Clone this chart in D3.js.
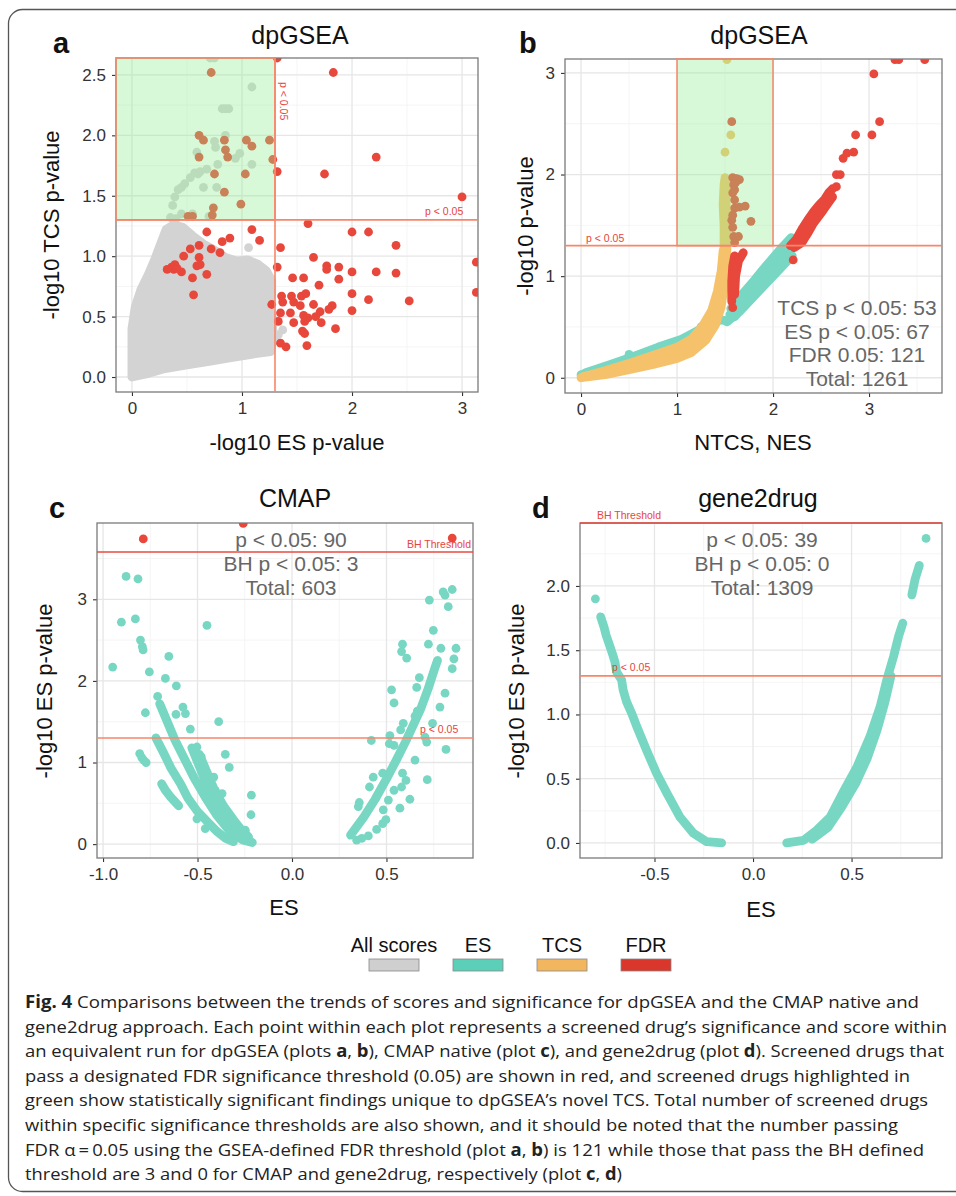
<!DOCTYPE html>
<html>
<head>
<meta charset="utf-8">
<script src="https://cdn.jsdelivr.net/npm/d3@7"></script>
<style>
    body { margin: 0; background: #fff; }
    svg { display: block; }
</style>
</head>
<body>
<svg id="chart" width="956" height="1196"></svg>
<script>
// ---- data: panel a (-log10 ES p, -log10 TCS p) ----
// outline of the dense grey cloud (centres of the edge points)
var aGrayCloud = [[0.00,0.00],[0.00,0.20],[0.00,0.40],[0.03,0.58],[0.08,0.72],[0.15,0.85],[0.21,0.98],[0.26,1.10],[0.31,1.22],
    [0.38,1.26],[0.46,1.24],[0.55,1.17],[0.65,1.10],[0.75,1.05],[0.85,0.99],[0.95,0.96],[1.05,0.97],[1.15,0.93],[1.22,0.88],
    [1.27,0.80],[1.27,0.68],[1.24,0.58],[1.28,0.48],[1.28,0.34],[1.26,0.21],[1.10,0.19],[0.90,0.16],[0.70,0.13],[0.50,0.10],
    [0.30,0.07],[0.15,0.03]];
var aGray = [[0.71,2.64],[0.75,2.64],[1.09,2.40],[0.82,2.22],[0.85,2.22],[0.88,2.22],[0.85,2.00],[0.75,1.95],[0.76,1.90],
    [0.59,1.86],[0.98,1.85],[0.94,1.81],[1.09,1.76],[0.78,1.76],[0.62,1.70],[0.57,1.69],[0.53,1.65],[0.48,1.60],[0.45,1.57],
    [0.42,1.55],[0.39,1.49],[0.37,1.42],[0.65,1.57],[0.77,1.57],[0.60,1.68],[0.68,1.72],[0.45,1.35],[0.40,1.31],[0.55,1.35],
    [0.70,1.33],[0.35,1.32],[1.37,0.39],[1.33,0.35],[1.30,0.30],[1.06,1.07]];
var aFdr = [[1.83,2.52],[1.32,2.64],[2.22,1.82],[1.75,1.68],[1.32,1.70],[3.00,1.49],[1.60,1.27],[2.00,1.20],[2.15,1.20],
    [2.40,1.09],[1.35,1.07],[3.13,0.95],[1.65,0.99],[1.77,0.92],[1.77,0.89],[1.88,0.91],[1.32,0.91],[2.00,0.87],[2.22,0.87],
    [2.40,0.86],[1.46,0.82],[1.56,0.82],[1.88,0.81],[1.70,0.76],[2.00,0.69],[3.13,0.70],[2.15,0.64],[2.52,0.63],[1.27,0.60],
    [1.36,0.67],[1.37,0.62],[1.45,0.67],[1.47,0.62],[1.54,0.67],[1.58,0.69],[1.65,0.60],[1.71,0.54],[1.82,0.59],[1.79,0.56],
    [1.35,0.53],[1.44,0.53],[1.53,0.59],[1.56,0.51],[1.60,0.49],[1.47,0.45],[1.57,0.46],[1.67,0.50],[1.72,0.45],[2.00,0.55],
    [1.33,0.46],[1.55,0.38],[1.57,0.36],[1.85,0.40],[1.35,0.28],[1.40,0.25],[1.59,0.26],
    [0.68,1.20],[1.09,1.22],[1.16,1.13],[0.82,1.12],[0.89,1.15],[0.61,1.09],[0.53,1.06],[0.72,1.06],[0.80,1.03],[0.47,1.00],
    [0.61,0.99],[0.62,0.93],[0.59,0.92],[0.36,0.91],[0.39,0.93],[0.38,0.89],[0.32,0.89],[0.45,0.87],[0.41,0.90],[0.55,0.82],
    [0.68,0.85],[0.56,0.68],
    [0.72,2.52],[0.61,2.00],[0.65,1.96],[0.61,1.82],[0.84,1.96],[0.85,1.88],[0.87,1.82],[1.04,1.96],[1.09,1.91],[1.25,1.96],
    [1.28,1.80],[0.75,1.68],[1.03,1.68],[0.84,1.53],[0.99,1.43],[0.74,1.40],[0.73,1.34],[0.51,1.33],[0.55,1.33]];

// ---- data: panel b (NTCS / NES, -log10 p) ----
var bEsTracks = [
    [[0.00,0.03],[0.25,0.10],[0.50,0.19],[0.75,0.27],[1.00,0.35],[1.20,0.44],[1.35,0.52],[1.45,0.57],[1.53,0.56]],
    [[0.05,0.05],[0.30,0.13],[0.55,0.21],[0.80,0.30],[1.05,0.38],[1.25,0.48],[1.40,0.56]],
    [[1.52,0.55],[1.65,0.65],[1.78,0.78],[1.90,0.90],[2.00,1.00],[2.10,1.10],[2.20,1.20]],
    [[1.56,0.68],[1.66,0.80],[1.78,0.93],[1.90,1.07],[2.00,1.18],[2.10,1.29],[2.19,1.38]],
    [[1.55,0.62],[1.70,0.78],[1.85,0.92],[2.00,1.09],[2.15,1.27]],
    [[1.60,0.60],[1.72,0.74],[1.86,0.88],[2.02,1.05],[2.18,1.22]]];
var bEs = [[0.50,0.23],[1.25,0.50],[2.24,1.30]];
var bTcsTracks = [
    [[0.00,0.00],[0.25,0.03],[0.50,0.08],[0.75,0.13],[1.00,0.19],[1.15,0.25],[1.30,0.37],[1.40,0.52],[1.46,0.70],[1.49,0.90],[1.51,1.10],[1.52,1.28]],
    [[0.02,0.01],[0.25,0.07],[0.50,0.14],[0.75,0.22],[1.00,0.30],[1.15,0.38],[1.26,0.50],[1.36,0.66],[1.42,0.85],[1.46,1.05],[1.48,1.25]],
    [[0.10,0.02],[0.40,0.10],[0.70,0.17],[1.00,0.25],[1.20,0.33],[1.33,0.50],[1.42,0.70],[1.47,0.95],[1.50,1.20]],
    [[1.49,1.28],[1.49,1.50],[1.48,1.70],[1.49,1.90],[1.50,1.97]],
    [[1.52,1.32],[1.52,1.55],[1.51,1.75],[1.52,1.93]]];
var bTcs = [[1.50,2.22],[1.56,2.39],[1.52,3.13]];
var bFdrTracks = [
    [[1.57,0.75],[1.57,0.95],[1.58,1.10],[1.60,1.20]],
    [[1.60,0.82],[1.61,1.00],[1.64,1.15],[1.69,1.23]],
    [[2.18,1.30],[2.24,1.36],[2.30,1.46],[2.36,1.55],[2.42,1.63],[2.48,1.70],[2.54,1.76],[2.58,1.82],[2.62,1.86]],
    [[2.22,1.28],[2.30,1.33],[2.36,1.42],[2.42,1.52],[2.50,1.62],[2.56,1.70],[2.62,1.78]]];
var bFdr = [[1.58,0.69],[2.21,1.16],[2.66,2.00],[2.70,2.00],[2.66,1.88],[2.73,2.16],[2.77,2.21],[2.84,2.22],[2.86,2.39],
    [3.03,2.39],[3.11,2.52],[3.05,2.99],[3.27,3.13],[3.31,3.13],[3.58,3.13],
    [1.57,2.52],[1.58,1.97],[1.62,1.96],[1.65,1.95],[1.59,1.90],[1.61,1.92],[1.58,1.82],[1.60,1.85],[1.60,1.67],[1.65,1.68],
    [1.71,1.69],[1.77,1.54],[1.58,1.48],[1.59,1.39],[1.64,1.39],[1.60,1.33],[1.57,1.55],[1.58,1.60],[1.60,1.75]];
var bCounts = ["TCS p < 0.05: 53", "ES p < 0.05: 67", "FDR 0.05: 121", "Total: 1261"];

// ---- data: panel c (CMAP ES, -log10 ES p) ----
var cEsTracks = [
    [[-0.70,1.72],[-0.66,1.50],[-0.62,1.28],[-0.57,1.05],[-0.52,0.82],[-0.46,0.58],[-0.40,0.36],[-0.33,0.16],[-0.26,0.05],[-0.21,0.02]],
    [[-0.72,1.30],[-0.68,1.12],[-0.64,0.93],[-0.59,0.74],[-0.55,0.56],[-0.50,0.40],[-0.45,0.28],[-0.40,0.16],[-0.35,0.07],[-0.31,0.03]],
    [[-0.53,1.18],[-0.49,0.95],[-0.45,0.72],[-0.41,0.52],[-0.36,0.33],[-0.31,0.18],[-0.26,0.08],[-0.22,0.03]],
    [[-0.49,1.10],[-0.45,0.88],[-0.41,0.66],[-0.36,0.46],[-0.31,0.30],[-0.27,0.18],[-0.23,0.09]],
    [[-0.69,0.74],[-0.67,0.66],[-0.64,0.57],[-0.60,0.47]],
    [[0.31,0.11],[0.38,0.33],[0.44,0.55],[0.50,0.80],[0.55,1.02],[0.60,1.25],[0.64,1.45],[0.68,1.65],[0.72,1.90],[0.755,2.15],[0.77,2.25]]];
var cEs = [[-0.878,3.28],[-0.815,3.25],[-0.903,2.72],[-0.829,2.76],[-0.45,2.68],[-0.802,2.50],[-0.788,2.38],[-0.792,2.42],
    [-0.949,2.17],[-0.652,2.30],[-0.755,2.11],[-0.670,2.03],[-0.612,1.94],[-0.711,1.81],[-0.776,1.61],[-0.577,1.68],
    [-0.564,1.60],[-0.614,1.59],[-0.538,1.41],[-0.388,1.50],[-0.806,1.11],[-0.795,1.06],[-0.785,1.03],[-0.772,1.00],
    [-0.353,1.10],[-0.332,0.94],[-0.215,0.60],[-0.217,0.36],[-0.503,0.31],[-0.459,0.19],
    [-0.503,1.19],[-0.48,1.07],[-0.467,0.95],[-0.414,0.82],[-0.406,0.66],[-0.37,0.62],[-0.361,0.38],[-0.326,0.27],
    [-0.291,0.19],[-0.247,0.17],[-0.24,0.06],
    [0.80,3.09],[0.848,3.12],[0.81,3.05],[0.727,2.99],[0.827,2.91],[0.748,2.62],[0.722,2.45],[0.788,2.40],[0.868,2.40],
    [0.857,2.27],[0.848,2.15],[0.585,2.45],[0.58,2.36],[0.607,2.28],[0.674,2.04],[0.66,1.92],[0.81,1.85],[0.527,1.89],
    [0.54,1.73],[0.783,1.68],[0.744,1.48],[0.589,1.48],[0.575,1.40],[0.42,1.27],[0.518,1.33],[0.515,1.23],[0.54,1.21],
    [0.704,1.31],[0.713,1.25],[0.815,1.16],[0.651,1.03],[0.716,0.79],[0.585,0.87],[0.603,0.78],[0.58,0.70],[0.43,0.82],
    [0.41,0.70],[0.48,0.87],[0.54,0.66],[0.51,0.54],[0.624,0.55],[0.356,0.51],[0.351,0.46],[0.571,0.44],[0.483,0.42],
    [0.497,0.30],[0.48,0.25],[0.448,0.18],[0.342,0.05],[0.369,0.07],[0.404,0.10],[0.651,1.57],[0.663,1.63]];
var cFdr = [[-0.787,3.74],[-0.258,3.93],[0.848,3.75]];
var cCounts = ["p < 0.05: 90", "BH p < 0.05: 3", "Total: 603"];

// ---- data: panel d (gene2drug ES, -log10 ES p) ----
var dEsTracks = [
    [[-0.773,1.76],[-0.756,1.68],[-0.746,1.62],[-0.726,1.53],[-0.713,1.47],[-0.701,1.41],[-0.692,1.33],[-0.667,1.27],
     [-0.659,1.19],[-0.642,1.10],[-0.616,1.01],[-0.591,0.91],[-0.540,0.72],[-0.489,0.54],[-0.438,0.39],[-0.370,0.20],
     [-0.302,0.075],[-0.235,0.01],[-0.159,0.00]],
    [[0.171,0.00],[0.256,0.02],[0.323,0.10],[0.391,0.20],[0.459,0.40],[0.527,0.59],[0.594,0.83],[0.645,1.06],[0.679,1.27],
     [0.713,1.45],[0.739,1.61],[0.760,1.71]],
    [[0.30,0.03],[0.38,0.12],[0.45,0.28],[0.52,0.46],[0.58,0.66],[0.63,0.88],[0.67,1.10],[0.70,1.30]],
    [[0.806,1.93],[0.822,2.05],[0.834,2.11],[0.844,2.16]]];
var dEs = [[-0.80,1.90],[0.878,2.37]];
var dCounts = ["p < 0.05: 39", "BH p < 0.05: 0", "Total: 1309"];

// ---- thresholds, legend, caption ----
var pCut = 1.3;
var cBhCut = 3.58;
var dBhCut = 2.49;
var legendKeys = ["All scores", "ES", "TCS", "FDR"];
var captionLines = [
    [["Fig. 4", 1], ["  Comparisons between the trends of scores and significance for dpGSEA and the CMAP native and", 0]],
    [["gene2drug approach. Each point within each plot represents a screened drug\u2019s significance and score within", 0]],
    [["an equivalent run for dpGSEA (plots ", 0], ["a", 1], [", ", 0], ["b", 1], ["), CMAP native (plot ", 0], ["c", 1],
     ["), and gene2drug (plot ", 0], ["d", 1], ["). Screened drugs that", 0]],
    [["pass a designated FDR significance threshold (0.05) are shown in red, and screened drugs highlighted in", 0]],
    [["green show statistically significant findings unique to dpGSEA\u2019s novel TCS. Total number of screened drugs", 0]],
    [["within specific significance thresholds are also shown, and it should be noted that the number passing", 0]],
    [["FDR \u03b1\u2009=\u20090.05 using the GSEA-defined FDR threshold (plot ", 0], ["a", 1], [", ", 0], ["b", 1],
     [") is 121 while those that pass the BH defined", 0]],
    [["threshold are 3 and 0 for CMAP and gene2drug, respectively (plot ", 0], ["c", 1], [", ", 0], ["d", 1], [")", 0]]];

// 配置
var _config = {
    font: '"Liberation Sans", Arial, Helvetica, sans-serif',
    capFont: '"Open Sans", "Noto Sans", sans-serif',
    r: 4.4,
    gray: "#d3d3d3", teal: "#78d7c3", orange: "#f5c26b", red: "#e8473b",
    pLine: "#f8866b", bhLine: "#e84a3f", labelRed: "#e8453c"
};

var int0 = function (d) { return String(d); };
var dec1 = function (d) { return d.toFixed(1); };

var panels = {
    a: {id: "a", left: 116, right: 478, top: 58, bottom: 392, xDomain: [-0.145, 3.145], yDomain: [-0.124, 2.64],
        xTicks: [0, 1, 2, 3], xMinor: [0.5, 1.5, 2.5], xFmt: int0,
        yTicks: [0, 0.5, 1, 1.5, 2, 2.5], yMinor: [0.25, 0.75, 1.25, 1.75, 2.25], yFmt: dec1,
        letter: [53, 53], title: ["dpGSEA", 300, 44], xTitle: ["-log10 ES p-value", 297, 450], yTitle: ["-log10 TCS p-value", 59, 225]},
    b: {id: "b", left: 565, right: 942, top: 59, bottom: 393, xDomain: [-0.167, 3.76], yDomain: [-0.15, 3.137],
        xTicks: [0, 1, 2, 3], xMinor: [0.5, 1.5, 2.5, 3.5], xFmt: int0,
        yTicks: [0, 1, 2, 3], yMinor: [0.5, 1.5, 2.5], yFmt: int0,
        letter: [519, 53], title: ["dpGSEA", 759, 44], xTitle: ["NTCS, NES", 753, 450], yTitle: ["-log10 p-value", 533, 226]},
    c: {id: "c", left: 97, right: 473, top: 523, bottom: 858, xDomain: [-1.032, 0.958], yDomain: [-0.17, 3.935],
        xTicks: [-1, -0.5, 0, 0.5], xMinor: [-0.75, -0.25, 0.25, 0.75], xFmt: dec1,
        yTicks: [0, 1, 2, 3], yMinor: [0.5, 1.5, 2.5, 3.5], yFmt: int0,
        letter: [49, 518], title: ["CMAP", 295, 507], xTitle: ["ES", 284, 915], yTitle: ["-log10 ES p-value", 52, 691]},
    d: {id: "d", left: 580, right: 942, top: 523, bottom: 858, xDomain: [-0.878, 0.959], yDomain: [-0.117, 2.49],
        xTicks: [-0.5, 0, 0.5], xMinor: [-0.75, -0.25, 0.25, 0.75], xFmt: dec1,
        yTicks: [0, 0.5, 1, 1.5, 2], yMinor: [0.25, 0.75, 1.25, 1.75, 2.25], yFmt: dec1,
        letter: [532, 518], title: ["gene2drug", 758, 507], xTitle: ["ES", 761, 917], yTitle: ["-log10 ES p-value", 524, 691]}
};

var svg = d3.select("#chart");

var _tool = {
    // 面板框架：网格、坐标轴、标题
    frame: function (cfg) {
        var x = d3.scaleLinear().domain(cfg.xDomain).range([cfg.left, cfg.right]);
        var y = d3.scaleLinear().domain(cfg.yDomain).range([cfg.bottom, cfg.top]);
        var g = svg.append("g").attr("class", "panel-" + cfg.id);

        g.append("clipPath").attr("id", "clip-" + cfg.id).append("rect")
            .attr("x", cfg.left).attr("y", cfg.top)
            .attr("width", cfg.right - cfg.left).attr("height", cfg.bottom - cfg.top);

        var grid = g.append("g");
        [[cfg.xMinor, "#f3f3f3", 0.8, "x"], [cfg.yMinor, "#f3f3f3", 0.8, "y"],
         [cfg.xTicks, "#e6e6e6", 1.3, "x"], [cfg.yTicks, "#e6e6e6", 1.3, "y"]].forEach(function (s) {
            grid.selectAll(null).data(s[0]).enter().append("line")
                .attr("x1", function (d) { return s[3] === "x" ? x(d) : cfg.left; })
                .attr("x2", function (d) { return s[3] === "x" ? x(d) : cfg.right; })
                .attr("y1", function (d) { return s[3] === "x" ? cfg.top : y(d); })
                .attr("y2", function (d) { return s[3] === "x" ? cfg.bottom : y(d); })
                .attr("stroke", s[1]).attr("stroke-width", s[2]);
        });

        var plot = g.append("g").attr("clip-path", "url(#clip-" + cfg.id + ")");

        var xa = g.append("g").attr("transform", "translate(0," + cfg.bottom + ")")
            .call(d3.axisBottom(x).tickValues(cfg.xTicks).tickFormat(cfg.xFmt).tickSize(4).tickPadding(6));
        var ya = g.append("g").attr("transform", "translate(" + cfg.left + ",0)")
            .call(d3.axisLeft(y).tickValues(cfg.yTicks).tickFormat(cfg.yFmt).tickSize(4).tickPadding(6));
        [xa, ya].forEach(function (a) {
            a.select(".domain").remove();
            a.selectAll("line").attr("stroke", "#333").attr("stroke-width", 1.1);
            a.selectAll("text").attr("fill", "#333").style("font-size", "17px").style("font-family", _config.font);
        });

        g.append("text").attr("x", cfg.letter[0]).attr("y", cfg.letter[1]).text(cfg.id)
            .style("font", "bold 29px " + _config.font).attr("fill", "#111");
        g.append("text").attr("x", cfg.title[1]).attr("y", cfg.title[2]).attr("text-anchor", "middle")
            .text(cfg.title[0]).style("font", "25px " + _config.font).attr("fill", "#111");
        g.append("text").attr("x", cfg.xTitle[1]).attr("y", cfg.xTitle[2]).attr("text-anchor", "middle")
            .text(cfg.xTitle[0]).style("font", "22px " + _config.font).attr("fill", "#111");
        g.append("text").attr("transform", "translate(" + cfg.yTitle[1] + "," + cfg.yTitle[2] + ") rotate(-90)")
            .attr("text-anchor", "middle").text(cfg.yTitle[0]).style("font", "22px " + _config.font).attr("fill", "#111");

        return {x: x, y: y, g: g, plot: plot, cfg: cfg};
    },

    border: function (p) {
        var c = p.cfg;
        p.g.append("rect").attr("x", c.left).attr("y", c.top)
            .attr("width", c.right - c.left).attr("height", c.bottom - c.top)
            .attr("fill", "none").attr("stroke", "#7a7a7a").attr("stroke-width", 1.3);
    },

    dots: function (p, data, color) {
        p.plot.append("g").selectAll("circle").data(data).enter().append("circle")
            .attr("cx", function (d) { return p.x(d[0]); })
            .attr("cy", function (d) { return p.y(d[1]); })
            .attr("r", _config.r).attr("fill", color);
    },

    // 密集点带：沿点中心连线，线宽等于点直径
    tracks: function (p, list, color) {
        var line = d3.line().x(function (d) { return p.x(d[0]); }).y(function (d) { return p.y(d[1]); });
        p.plot.append("g").selectAll("path").data(list).enter().append("path")
            .attr("d", line).attr("fill", "none").attr("stroke", color)
            .attr("stroke-width", _config.r * 2).attr("stroke-linecap", "round").attr("stroke-linejoin", "round");
    },

    cloud: function (p, data, color) {
        var line = d3.line().curve(d3.curveLinearClosed)
            .x(function (d) { return p.x(d[0]); }).y(function (d) { return p.y(d[1]); });
        p.plot.append("path").attr("d", line(data)).attr("fill", color).attr("stroke", color)
            .attr("stroke-width", _config.r * 2).attr("stroke-linejoin", "round");
    },

    greenBox: function (p, x0, x1, y0, y1) {
        p.g.append("rect").attr("x", x0).attr("y", y1).attr("width", x1 - x0).attr("height", y0 - y1)
            .attr("fill", "#90ee90").attr("fill-opacity", 0.35)
            .attr("stroke", _config.pLine).attr("stroke-width", 1.5);
    },

    hline: function (p, v, color) {
        p.g.append("line").attr("x1", p.cfg.left).attr("x2", p.cfg.right)
            .attr("y1", p.y(v)).attr("y2", p.y(v)).attr("stroke", color).attr("stroke-width", 1.6);
    },

    vline: function (p, v, color) {
        p.g.append("line").attr("y1", p.cfg.top).attr("y2", p.cfg.bottom)
            .attr("x1", p.x(v)).attr("x2", p.x(v)).attr("stroke", color).attr("stroke-width", 1.6);
    },

    smallLabel: function (p, txt, x, y, rot) {
        var t = p.g.append("text").text(txt).style("font", "10.5px " + _config.font).attr("fill", _config.labelRed);
        if (rot) {
            t.attr("transform", "translate(" + x + "," + y + ") rotate(90)");
        } else {
            t.attr("x", x).attr("y", y);
        }
    },

    counts: function (p, lines, cx, y0, step) {
        p.g.append("g").selectAll("text").data(lines).enter().append("text")
            .attr("x", cx).attr("y", function (d, i) { return y0 + i * step; })
            .attr("text-anchor", "middle").text(function (d) { return d; })
            .style("font", "21px " + _config.font).attr("fill", "#666");
    }
};

// 外框
svg.append("rect").attr("x", 8.5).attr("y", 9.5).attr("width", 1000).attr("height", 1182).attr("rx", 14)
    .attr("fill", "#fff").attr("stroke", "#555").attr("stroke-width", 1.3);

// panel a
var pa = _tool.frame(panels.a);
_tool.cloud(pa, aGrayCloud, _config.gray);
_tool.dots(pa, aGray, _config.gray);
_tool.dots(pa, aFdr, _config.red);
_tool.border(pa);
_tool.greenBox(pa, panels.a.left, pa.x(pCut), pa.y(pCut), panels.a.top);
_tool.vline(pa, pCut, _config.pLine);
_tool.hline(pa, pCut, _config.pLine);
_tool.smallLabel(pa, "p < 0.05", 280, 82, true);
_tool.smallLabel(pa, "p < 0.05", 425, 215, false);

// panel b
var pb = _tool.frame(panels.b);
_tool.tracks(pb, bEsTracks, _config.teal);
_tool.dots(pb, bEs, _config.teal);
_tool.tracks(pb, bTcsTracks, _config.orange);
_tool.dots(pb, bTcs, _config.orange);
_tool.tracks(pb, bFdrTracks, _config.red);
_tool.dots(pb, bFdr, _config.red);
_tool.border(pb);
_tool.greenBox(pb, pb.x(1), pb.x(2), pb.y(pCut), panels.b.top);
_tool.hline(pb, pCut, _config.pLine);
_tool.smallLabel(pb, "p < 0.05", 586, 242, false);
_tool.counts(pb, bCounts, 857, 315, 23.7);

// panel c
var pc = _tool.frame(panels.c);
_tool.tracks(pc, cEsTracks, _config.teal);
_tool.dots(pc, cEs, _config.teal);
_tool.dots(pc, cFdr, _config.red);
_tool.border(pc);
_tool.hline(pc, cBhCut, _config.bhLine);
_tool.hline(pc, pCut, _config.pLine);
_tool.smallLabel(pc, "BH Threshold", 407, 548, false);
_tool.smallLabel(pc, "p < 0.05", 420, 733, false);
_tool.counts(pc, cCounts, 291, 547, 24);

// panel d
var pd = _tool.frame(panels.d);
_tool.tracks(pd, dEsTracks, _config.teal);
_tool.dots(pd, dEs, _config.teal);
_tool.border(pd);
_tool.hline(pd, dBhCut, _config.bhLine);
_tool.hline(pd, pCut, _config.pLine);
_tool.smallLabel(pd, "BH Threshold", 597, 519, false);
_tool.smallLabel(pd, "p < 0.05", 612, 671, false);
_tool.counts(pd, dCounts, 762, 547, 24);

// 图例
var legendX = d3.scalePoint().domain(legendKeys).range([394, 646]);
var legendFill = {"All scores": "#cfcfcf", "ES": "#5ccfb8", "TCS": "#f2b65f", "FDR": "#d9372b"};
var lg = svg.append("g").attr("class", "legend");
lg.selectAll("text").data(legendKeys).enter().append("text")
    .attr("x", function (d) { return legendX(d); }).attr("y", 952).attr("text-anchor", "middle")
    .text(function (d) { return d; }).style("font", "20px " + _config.font).attr("fill", "#111");
lg.selectAll("rect").data(legendKeys).enter().append("rect")
    .attr("x", function (d) { return legendX(d) - 25; }).attr("y", 959).attr("width", 50).attr("height", 12)
    .attr("fill", function (d) { return legendFill[d]; }).attr("stroke", "#888").attr("stroke-width", 0.8);

// 图注
var capEnds = [919, 947, 944, 910, 928, 898, 924, 622];
var cap = svg.append("g").attr("class", "caption");
captionLines.forEach(function (segs, i) {
    var t = cap.append("text").attr("x", 25).attr("y", 1008 + i * 24.6)
        .attr("textLength", capEnds[i] - 25).attr("lengthAdjust", "spacingAndGlyphs")
        .style("font-family", _config.capFont).style("font-size", "17px").attr("fill", "#222");
    segs.forEach(function (s) {
        t.append("tspan").text(s[0]).style("font-weight", s[1] ? "bold" : "normal");
    });
});
</script>
</body>
</html>
